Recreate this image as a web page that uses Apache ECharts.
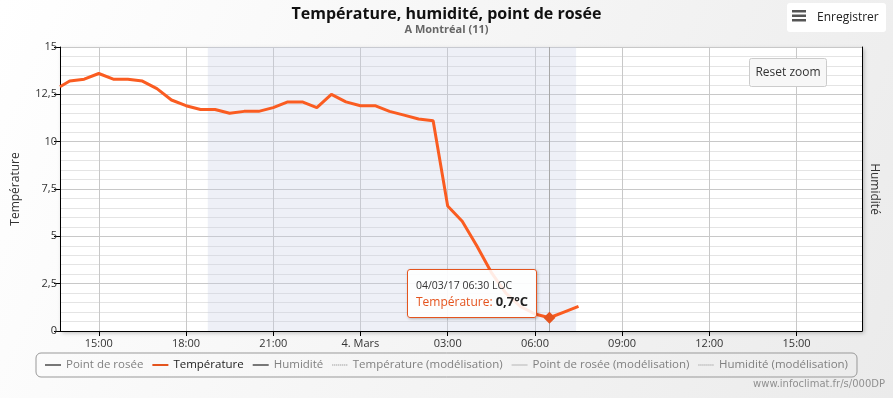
<!DOCTYPE html>
<html>
<head>
<meta charset="utf-8">
<script src="https://cdn.jsdelivr.net/npm/echarts@6/dist/echarts.min.js"></script>
<style>
  html, body { margin: 0; padding: 0; }
  #main { width: 893px; height: 398px; }
</style>
</head>
<body>
<div id="main"></div>
<script>
// heures relevées (pas de 30 min), la première est au bord gauche du graphe
var heures = ['03/03 13:40', '03/03 14:00', '03/03 14:30', '03/03 15:00', '03/03 15:30', '03/03 16:00',
  '03/03 16:30', '03/03 17:00', '03/03 17:30', '03/03 18:00', '03/03 18:30', '03/03 19:00',
  '03/03 19:30', '03/03 20:00', '03/03 20:30', '03/03 21:00', '03/03 21:30', '03/03 22:00',
  '03/03 22:30', '03/03 23:00', '03/03 23:30', '04/03 00:00', '04/03 00:30', '04/03 01:00',
  '04/03 01:30', '04/03 02:00', '04/03 02:30', '04/03 03:00', '04/03 03:30', '04/03 04:00',
  '04/03 04:30', '04/03 05:00', '04/03 05:30', '04/03 06:00', '04/03 06:30', '04/03 07:00',
  '04/03 07:30'];
var temperature = [12.9, 13.2, 13.3, 13.6, 13.3, 13.3,
  13.2, 12.8, 12.2, 11.9, 11.7, 11.7,
  11.5, 11.6, 11.6, 11.8, 12.1, 12.1,
  11.8, 12.5, 12.1, 11.9, 11.9, 11.6,
  11.4, 11.2, 11.1, 6.6, 5.8, 4.5,
  3.1, 2.0, 1.3, 0.9, 0.7, 1.0,
  1.3];
var nuit = ['03/03 18:45', '04/03 07:25'];
var heureSurvol = '04/03 06:30';
var yTicks = [0, 2.5, 5, 7.5, 10, 12.5, 15];
var legende = ['Point de rosée', 'Température', 'Humidité', 'Température (modélisation)',
  'Point de rosée (modélisation)', 'Humidité (modélisation)'];

// axe des temps : un créneau toutes les 5 minutes, de 13:40 à 17:15 le lendemain
var creneaux = [];
for (var j = 0; j < 2; j++) {
  for (var h = 0; h < 24; h++) {
    for (var m = 0; m < 60; m += 5) {
      var t = j * 1440 + h * 60 + m;
      if (t < 13 * 60 + 40 || t > 1440 + 17 * 60 + 15) continue;
      creneaux.push((j ? '04/03 ' : '03/03 ') + (h < 10 ? '0' : '') + h + ':' + (m < 10 ? '0' : '') + m);
    }
  }
}
function estGraduation(idx, nom) {
  var hm = nom.split(' ')[1];
  return hm.slice(3) === '00' && parseInt(hm.slice(0, 2), 10) % 3 === 0;
}

// icônes de légende : trait plein ou pointillé
var iconePlein = 'path://M0,0H16V2H0Z';
var iconePointille = 'path://';
for (var k = 0; k < 16; k += 2) iconePointille += 'M' + k + ',0H' + (k + 1) + 'V2H' + k + 'Z';

var orange = '#e4541e';
var police = 'Open Sans';

var myChart = echarts.init(document.getElementById('main'));
myChart.setOption({
  animation: false,
  backgroundColor: new echarts.graphic.LinearGradient(0, 0, 1, 1, [
    { offset: 0, color: '#ffffff' }, { offset: 1, color: '#ebebeb' }
  ]),
  textStyle: { fontFamily: police },
  title: {
    text: 'Température, humidité, point de rosée',
    subtext: 'A Montréal (11)',
    left: 'center',
    top: 1,
    itemGap: 2,
    textStyle: { fontSize: 16, fontWeight: 'bold', color: '#111', fontFamily: police },
    subtextStyle: { fontSize: 11, fontWeight: 'bold', color: '#666', fontFamily: police }
  },
  grid: {
    left: 60, right: 31, top: 47, bottom: 67,
    show: true, backgroundColor: '#fff', borderWidth: 0,
    shadowColor: 'rgba(0,0,0,0.25)', shadowBlur: 4, shadowOffsetX: 2, shadowOffsetY: 2
  },
  tooltip: {
    trigger: 'axis',
    triggerOn: 'none',
    alwaysShowContent: true,
    transitionDuration: 0,
    backgroundColor: 'rgba(255,255,255,0.88)',
    borderColor: orange,
    borderWidth: 1,
    borderRadius: 3,
    padding: [7, 8],
    extraCssText: 'box-shadow: 1px 1px 3px rgba(0,0,0,0.25);',
    axisPointer: { type: 'line', z: 1, lineStyle: { color: '#a8a8a8', width: 1, type: 'solid' } },
    position: function (point, params, dom, rect, size) {
      return [point[0] - size.contentSize[0] - 12, point[1] - size.contentSize[1]];
    },
    formatter: function (params) {
      var p = params[0];
      var parts = p.name.split(' ');
      var v = String(p.value[1]).replace('.', ',');
      return '<div style="font-family:Open Sans;font-size:10.5px;color:#333;line-height:16px">' +
        parts[0] + '/17 ' + parts[1] + ' LOC</div>' +
        '<div style="font-family:Open Sans;font-size:12px;line-height:17px">' +
        '<span style="color:' + orange + '">Température: </span>' +
        '<b style="color:#222;font-size:13px">' + v + '°C</b></div>';
    }
  },
  legend: {
    data: legende.map(function (n) {
      var item = { name: n, icon: n.indexOf('(') > 0 && n.indexOf('Point') < 0 ? iconePointille : iconePlein };
      if (n === 'Température') item.textStyle = { color: '#222' };
      return item;
    }),
    left: 'center',
    top: 353,
    padding: [6, 9],
    itemGap: 9,
    itemWidth: 16,
    itemHeight: 2,
    borderColor: '#999',
    borderWidth: 1,
    borderRadius: 5,
    textStyle: { fontSize: 11.5, color: '#808080', fontFamily: police }
  },
  xAxis: {
    type: 'category',
    boundaryGap: false,
    data: creneaux,
    axisLine: { lineStyle: { color: '#000', width: 1 } },
    axisTick: { interval: estGraduation, length: 5, lineStyle: { color: '#000' } },
    axisLabel: {
      interval: estGraduation, color: '#333', fontSize: 11, margin: 7, fontFamily: police,
      formatter: function (nom) {
        var hm = nom.split(' ')[1];
        return hm === '00:00' ? '4. Mars' : hm;
      }
    },
    splitLine: { show: true, interval: estGraduation, lineStyle: { color: '#c8c8c8' } }
  },
  yAxis: [{
    type: 'value',
    min: yTicks[0],
    max: yTicks[yTicks.length - 1],
    interval: yTicks[1] - yTicks[0],
    name: 'Température',
    nameLocation: 'middle',
    nameGap: 38,
    nameTextStyle: { fontSize: 12, color: '#333', fontFamily: police },
    axisLine: { show: true, lineStyle: { color: '#000' } },
    axisTick: { show: true, length: 6, lineStyle: { color: '#000' } },
    axisLabel: {
      color: '#333', fontSize: 11, margin: 3, fontFamily: police,
      formatter: function (v) { return String(v).replace('.', ','); }
    },
    splitLine: { lineStyle: { color: '#c8c8c8' } },
    minorTick: { show: false, splitNumber: 5 },
    minorSplitLine: { show: true, lineStyle: { color: '#e4e4e4' } }
  }, {
    type: 'value',
    position: 'right',
    min: 0,
    max: 100,
    name: 'Humidité',
    nameLocation: 'middle',
    nameRotate: -90,
    nameGap: 6,
    nameTextStyle: { fontSize: 12, color: '#333', fontFamily: police },
    axisLine: { show: true, lineStyle: { color: '#000' } },
    axisTick: { show: false },
    axisLabel: { show: false },
    splitLine: { show: false }
  }],
  series: [{
    name: 'Point de rosée', type: 'line', symbol: 'none', data: [],
    itemStyle: { color: '#777' }, lineStyle: { color: '#777', width: 2 }
  }, {
    name: 'Température', type: 'line', symbol: 'none', z: 5,
    itemStyle: { color: orange },
    lineStyle: { color: orange, width: 3 },
    data: heures.map(function (h, i) { return [h, temperature[i]]; }),
    markArea: {
      silent: true,
      itemStyle: { color: 'rgba(200,205,228,0.31)' },
      data: [[{ xAxis: nuit[0] }, { xAxis: nuit[1] }]]
    },
    markPoint: {
      silent: true,
      symbol: 'diamond',
      symbolSize: 12,
      z: 20,
      itemStyle: { color: orange },
      label: { show: false },
      data: [{ coord: [heureSurvol, temperature[heures.indexOf(heureSurvol)]] }]
    }
  }, {
    name: 'Humidité', type: 'line', symbol: 'none', data: [], yAxisIndex: 1,
    itemStyle: { color: '#777' }, lineStyle: { color: '#777', width: 2 }
  }, {
    name: 'Température (modélisation)', type: 'line', symbol: 'none', data: [],
    itemStyle: { color: '#bbbbbb' }, lineStyle: { color: '#bbbbbb', width: 1, type: 'dotted' }
  }, {
    name: 'Point de rosée (modélisation)', type: 'line', symbol: 'none', data: [],
    itemStyle: { color: '#d4d4d4' }, lineStyle: { color: '#d4d4d4', width: 2 }
  }, {
    name: 'Humidité (modélisation)', type: 'line', symbol: 'none', data: [], yAxisIndex: 1,
    itemStyle: { color: '#bbbbbb' }, lineStyle: { color: '#bbbbbb', width: 1, type: 'dotted' }
  }],
  graphic: [{
    type: 'group', left: 787, top: 3,
    children: [
      { type: 'rect', z: 100, shape: { x: 0, y: 0, width: 99, height: 29, r: 3 }, style: { fill: '#fff' } },
      { type: 'rect', z: 101, shape: { x: 5, y: 7, width: 14, height: 2.5 }, style: { fill: '#555' } },
      { type: 'rect', z: 101, shape: { x: 5, y: 11.5, width: 14, height: 2.5 }, style: { fill: '#555' } },
      { type: 'rect', z: 101, shape: { x: 5, y: 16, width: 14, height: 2.5 }, style: { fill: '#555' } },
      { type: 'text', z: 101, x: 30, y: 14.5, style: { text: 'Enregistrer', fontSize: 12, fontFamily: police, fill: '#222', verticalAlign: 'middle' } }
    ]
  }, {
    type: 'group', left: 749, top: 58,
    children: [
      { type: 'rect', z: 100, shape: { x: 0, y: 0, width: 77, height: 28, r: 2 }, style: { fill: '#f7f7f7', stroke: '#cccccc', lineWidth: 1 } },
      { type: 'text', z: 101, x: 38.5, y: 14, style: { text: 'Reset zoom', fontSize: 12, fontFamily: police, fill: '#333', align: 'center', verticalAlign: 'middle' } }
    ]
  }, {
    type: 'text', right: 8, top: 379,
    style: { text: 'www.infoclimat.fr/s/000DP', fontSize: 10, fontFamily: 'Verdana, DejaVu Sans', fill: '#909090' }
  }]
});

myChart.dispatchAction({ type: 'showTip', seriesIndex: 1, dataIndex: heures.indexOf(heureSurvol) });
</script>
</body>
</html>
